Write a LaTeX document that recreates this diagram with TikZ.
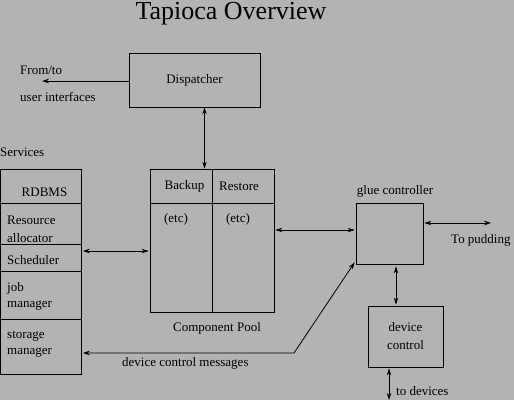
\documentclass[tikz,border=0pt]{standalone}
\usepackage{fontspec}
\setmainfont{Liberation Serif}
\usetikzlibrary{calc}
\usetikzlibrary{arrows.meta}
\definecolor{bggray}{HTML}{B3B3B3}

\begin{document}
\begin{tikzpicture}[x=1pt,y=-1pt,
    box/.style={draw,line width=0.8pt,inner sep=0pt},
    lbl/.style={inner sep=0pt,font=\fontsize{13}{15}\selectfont},
    dbl/.style={line width=0.8pt,{Stealth[length=7pt,width=4.5pt]}-{Stealth[length=7pt,width=4.5pt]}},
    sgl/.style={line width=0.8pt,-{Stealth[length=7pt,width=4.5pt]}}]
                \fill[bggray] (0,0) rectangle (514,400);
                \useasboundingbox (0,0) rectangle (514,400);
                \node[lbl,font=\fontsize{26}{30}\selectfont] (title) at (231,14) {Tapioca Overview};
                % dispatcher
                \node[box,lbl,minimum width=131,minimum height=54] (disp) at (194.5,80) {Dispatcher};
                \coordinate (ui) at (42,81);
                \node[lbl,anchor=west] (fromto) at (20,70) {From/to};
                \node[lbl,anchor=west] (uiname) at (20,97) {user interfaces};
                % services
                \node[lbl,anchor=west] (services) at (0,152) {Services};
                \foreach \n/\top/\bot in {rdbms/169/203, resalloc/203/244, sched/244/271, jobman/271/319, storman/319/374} {
                    \node[box,minimum width=81,minimum height={\bot-\top}] (\n) at (40.9,{(\top+\bot)/2}) {};
                }
                \node[lbl] (rdbmsname) at (44.5,192) {RDBMS};
                \foreach \t/\y in {Resource/220, allocator/238, Scheduler/260, job/288, manager/306, storage/336, manager/353} {
                    \node[lbl,anchor=west] at (7,\y) {\t};
                }
                % component pool
                \node[box,minimum width=62,minimum height=34] (backup) at (181,186) {};
                \node[box,minimum width=62,minimum height=34] (restore) at (243,186) {};
                \node[box,minimum width=62,minimum height=109] (etcA) at (181,257.5) {};
                \node[box,minimum width=62,minimum height=109] (etcB) at (243,257.5) {};
                \node[lbl] (backupname) at (184.5,186) {Backup};
                \node[lbl] (restorename) at (239,186) {Restore};
                \node[lbl] (etcAname) at (176,219) {(etc)};
                \node[lbl] (etcBname) at (238,219) {(etc)};
                \node[lbl] (poolname) at (217,328) {Component Pool};
                % glue controller and device control
                \node[box,minimum width=67,minimum height=61] (glue) at (389.5,233.5) {};
                \node[lbl] (gluename) at (395,191) {glue controller};
                \node[box,lbl,minimum width=75,minimum height=61,align=center] (dev) at (405.5,336.5) {device\\[3pt]control};
                \coordinate (pud) at (491,223);
                \coordinate (devs) at (389,400);
                \coordinate (bend) at (294,353);
                \node[lbl,anchor=west] (pudname) at (451,240) {To pudding};
                \node[lbl,anchor=west] (devsname) at (396,391) {to devices};
                \node[lbl,anchor=west] (msgname) at (122,363) {device control messages};
                % connectors
                \draw[sgl] (disp.west |- 0,81) -- (ui);
                \draw[dbl] ([xshift=10pt]disp.south) -- ([xshift=10pt]disp.south |- backup.north);
                \draw[dbl] ($(sched.east |- 0,251)+(1,0)$) -- ($(etcA.west |- 0,251)+(-1,0)$);
                \draw[dbl] ($(etcB.east |- 0,230)+(1,0)$) -- ($(glue.west |- 0,230)+(-1,0)$);
                \draw[dbl] ($(glue.east |- 0,223)+(1,0)$) -- (pud);
                \draw[dbl] ($(glue.south -| 396,0)+(0,2)$) -- ($(dev.north -| 396,0)+(0,-1)$);
                \draw[dbl] ($(dev.south -| devs)+(0,1)$) -- (devs);
                \draw[dbl] ($(storman.east |- bend)+(1,0)$) -- (bend) -- ($(glue.south west)+(-1,-2)$);
            \end{tikzpicture}
\end{document}
